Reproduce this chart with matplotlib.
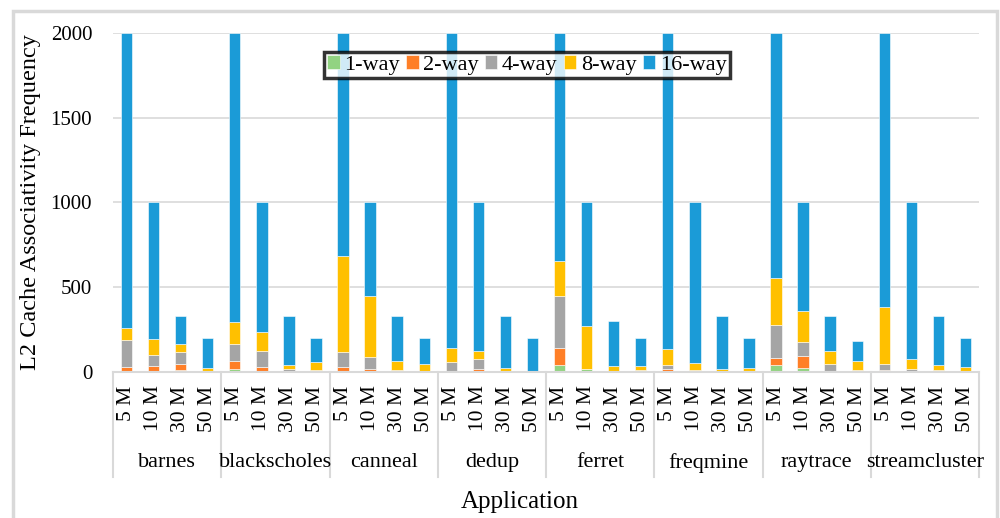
import matplotlib
matplotlib.use("Agg")
import matplotlib.pyplot as plt
import numpy as np
from matplotlib.patches import Rectangle

plt.rcParams['font.family'] = ['Liberation Serif', 'DejaVu Serif']

apps = ["barnes", "blackscholes", "canneal", "dedup",
        "ferret", "freqmine", "raytrace", "streamcluster"]
sizes = ["5 M", "10 M", "30 M", "50 M"]
series = ["1-way", "2-way", "4-way", "8-way", "16-way"]
colors = ["#92D382", "#FF7F27", "#A5A5A5", "#FFC000", "#1B9BD7"]

# one value per bar: apps in order, 5/10/30/50 M inside each app
way1 = [0, 0, 14, 0,   18, 0, 0, 0,    0, 0, 0, 0,      0, 5, 0, 0,
        41, 20, 0, 0,  0, 0, 0, 0,     39, 22, 0, 0,    0, 0, 0, 0]
way2 = [30, 33, 35, 0, 45, 31, 0, 0,   30, 18, 0, 0,    0, 10, 0, 0,
        98, 0, 0, 0,   20, 0, 0, 0,    45, 71, 0, 5,    12, 8, 0, 0]
way4 = [157, 69, 67, 6,  102, 94, 20, 14,  85, 69, 14, 8,   61, 60, 0, 0,
        307, 0, 0, 10,   24, 14, 0, 0,     195, 81, 45, 8,  37, 12, 14, 6]
way8 = [75, 90, 47, 16,  130, 112, 24, 45, 570, 362, 51, 41, 81, 50, 24, 8,
        208, 252, 33, 24, 94, 41, 20, 22,  273, 185, 79, 51, 336, 55, 26, 24]
way16 = [1738, 808, 170, 178,  1705, 763, 289, 141,  1315, 551, 268, 151,
         1858, 875, 309, 192,  1346, 728, 267, 166,  1862, 945, 313, 178,
         1448, 641, 209, 121,  1615, 925, 293, 170]

data = [way1, way2, way4, way8, way16]

fig = plt.figure(figsize=(10, 5.18), dpi=100)
ax = fig.add_axes([0.113, 0.2819, 0.866, 0.6544])

x = np.arange(len(way16))
bottom = np.zeros(len(x))
for vals, name, c in zip(data, series, colors):
    vals = np.array(vals, dtype=float)
    ax.bar(x, vals, 0.42, bottom=bottom, color=c, label=name,
           edgecolor="white", linewidth=0.4)
    bottom += vals

ax.set_xlim(-0.5, len(x) - 0.5)
ax.set_ylim(0, 2000)
ax.set_yticks([0, 500, 1000, 1500, 2000])
ax.tick_params(axis="y", length=0, labelsize=15, pad=15)
ax.set_xticks([])
ax.yaxis.grid(True, color="#D9D9D9", linewidth=1.2)
ax.set_axisbelow(True)
for s in ["left", "right", "top"]:
    ax.spines[s].set_visible(False)
ax.spines["bottom"].set_color("#D9D9D9")
ax.spines["bottom"].set_linewidth(1.5)

ax.set_ylabel("L2 Cache Associativity Frequency", fontsize=17.5)
ax.yaxis.set_label_coords(-0.083, 0.5)

# two-level category axis
trans = ax.get_xaxis_transform()
for i in range(len(x)):
    ax.text(x[i], -0.04, sizes[i % 4], rotation=90, ha="center", va="top",
            fontsize=15.5, transform=trans)
for g, app in enumerate(apps):
    ax.text(g * 4 + 1.5, -0.268, app, ha="center", va="center",
            fontsize=16, transform=trans)
for g in range(len(apps) + 1):
    ax.plot([g * 4 - 0.5] * 2, [0, -0.31], color="#D9D9D9", linewidth=1.5,
            transform=trans, clip_on=False)

fig.text(0.52, 0.031, "Application", ha="center", va="center", fontsize=18)

leg = ax.legend(loc="center", bbox_to_anchor=(0.478, 0.905), ncol=5,
                fontsize=16, frameon=True, fancybox=False,
                handlelength=0.55, handleheight=0.55, handletextpad=0.2,
                columnspacing=0.3, borderpad=0.15, borderaxespad=0)
leg.get_frame().set_edgecolor("black")
leg.get_frame().set_linewidth(2.5)

# outer chart border
fig.patches.append(Rectangle((0.013, -0.02), 0.984, 0.999, transform=fig.transFigure,
                             fill=False, edgecolor="#D9D9D9", linewidth=2.5))

fig.savefig("out.png", dpi=100)
